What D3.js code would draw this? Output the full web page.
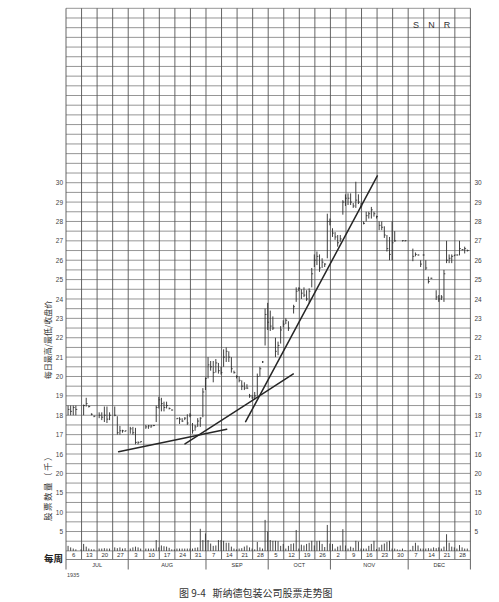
<!DOCTYPE html>
<html><head><meta charset="utf-8">
<script src="https://cdn.jsdelivr.net/npm/d3@7"></script>
<style>body{margin:0;background:#fff}svg{display:block}</style>
</head><body><svg id="c" width="499" height="602"></svg>
<script>
// ---- data ----
const weekLabels = ["6","13","20","27","3","10","17","24","31","7","14","21","28","5","12","19","26","2","9","16","23","30","7","14","21","28"];
const monthNames = ["JUL","AUG","SEP","OCT","NOV","DEC"];
const monthStartWeek = [0,4,9,13,17,22,26];
const priceTicks = [16,17,18,19,20,21,22,23,24,25,26,27,28,29,30];
const volumeTicks = [5,10,15,20];
const N = null;
// daily high / low / close (6 trading days per week)
const highs = [
 18.5,18.5,18.5,18.5,N,N,
 18.55,18.9,18.5,18.1,17.98,N,
 18.15,18.15,18.45,18.45,18.15,N,
 18.45,17.95,17.45,17.25,17.2,N,
 17.4,17.4,17.35,16.65,16.65,N,
 17.5,17.5,17.5,17.5,18.5,18.95,
 18.9,18.7,18.7,18.4,18.3,N,
 17.85,17.9,17.85,17.9,18.05,18.1,
 17.6,17.5,17.85,17.9,19.4,19.95,
 21.0,20.8,20.8,20.9,20.7,20.5,
 21.4,21.5,21.3,21.0,20.3,20.06,
 20.0,19.8,19.7,19.6,19.1,19.05,
 19.2,20.15,20.5,20.8,23.5,23.8,
 23.4,23.1,22.0,21.8,22.6,22.9,
 23.0,22.85,N,23.7,24.6,24.6,
 24.5,24.6,24.45,24.55,25.6,26.3,
 26.45,26.3,26.1,25.85,28.4,28.15,
 27.65,27.45,27.3,27.3,29.1,29.4,
 29.45,29.45,28.95,30.05,29.4,28.95,
 28.0,28.5,28.5,28.75,28.5,28.3,
 28.0,28.0,27.75,27.3,27.2,28.0,
 27.5,N,N,27.03,27.03,N,
 N,26.6,26.4,26.3,26.0,26.3,
 26.0,25.15,25.1,N,24.45,24.2,
 24.2,25.5,27.0,26.3,26.3,26.27,
 26.3,27.0,26.57,26.7,26.55,N];
const lows = [
 18.0,18.0,18.0,18.0,N,N,
 18.0,18.45,18.4,18.0,17.9,N,
 17.85,17.75,17.65,17.6,17.75,N,
 17.95,17.0,17.0,17.1,17.15,N,
 17.05,17.0,16.5,16.5,16.6,N,
 17.3,17.3,17.35,17.45,17.65,18.35,
 18.2,18.2,18.35,18.3,18.25,N,
 17.8,17.55,17.65,17.75,17.5,17.9,
 17.05,17.2,17.4,17.4,17.9,19.3,
 19.9,20.3,19.7,20.2,20.15,20.1,
 20.5,20.75,20.75,20.2,20.15,19.9,
 19.7,19.3,19.3,19.35,18.9,18.85,
 18.8,19.0,20.0,20.7,21.6,22.4,
 22.35,22.4,21.0,21.1,21.7,22.55,
 22.7,22.35,N,23.25,23.85,24.4,
 24.0,24.1,23.9,23.8,24.6,25.65,
 25.75,25.4,25.6,25.65,26.1,27.8,
 27.2,27.05,26.7,26.95,28.35,28.8,
 28.85,28.85,28.7,28.7,28.9,28.7,
 27.85,28.0,28.15,28.15,28.25,28.15,
 27.55,27.55,27.15,26.45,26.0,26.0,
 26.95,N,N,27.0,27.0,N,
 N,25.95,26.2,26.25,25.65,26.25,
 25.5,24.8,25.05,N,23.95,23.85,
 23.95,23.85,25.85,25.85,25.85,26.25,
 26.25,26.25,26.53,26.35,26.45,N];
const closes = [
 18.3,18.2,18.4,18.3,N,N,
 18.5,18.6,18.45,18.05,17.95,N,
 18.0,17.9,18.0,17.8,18.0,N,
 18.0,17.1,17.2,17.2,17.2,N,
 17.3,17.1,16.6,16.6,16.64,N,
 17.4,17.45,17.45,17.47,18.4,18.8,
 18.6,18.4,18.5,18.35,18.27,N,
 17.84,17.8,17.7,17.85,17.6,18.0,
 17.2,17.4,17.7,17.85,19.2,19.9,
 20.6,20.5,20.2,20.7,20.3,20.2,
 21.0,21.3,21.0,20.4,20.2,20.0,
 19.8,19.5,19.4,19.4,19.0,18.9,
 19.0,20.0,20.4,20.75,23.2,22.8,
 22.6,22.5,21.3,21.6,22.4,22.7,
 22.9,22.5,N,23.6,24.4,24.55,
 24.3,24.2,24.0,24.4,25.3,26.0,
 26.2,25.6,25.9,25.8,28.0,28.0,
 27.4,27.2,26.9,27.1,29.0,29.2,
 29.2,29.0,28.8,29.1,29.0,28.8,
 27.9,28.3,28.4,28.6,28.4,28.25,
 27.8,27.7,27.3,26.6,26.3,26.9,
 27.0,N,N,27.01,27.01,N,
 N,26.2,26.3,26.27,25.8,26.27,
 25.6,24.9,25.07,N,24.1,24.0,
 24.1,25.3,26.0,26.1,26.2,26.27,
 26.27,26.6,26.55,26.6,26.5,N];
// daily volume, thousands of shares
const volumes = [
 1.3,0.9,0.6,0.4,0,0.4,
 1.8,1.1,0.6,0.4,0.4,0,
 0.6,0.6,0.7,0.6,0.6,0,
 0.9,0.7,0.9,0.6,0.7,0,
 0.6,0.9,1.1,0.9,0.6,0,
 0.6,0.6,0.6,0.6,2.8,0.9,
 1.4,1.2,1.1,0.8,0.4,0.4,
 0.6,0.6,0.6,0.6,0.6,0.6,
 0.6,0.8,0.9,5.7,2.8,4.5,
 2.8,1.9,1.3,1.4,2.8,2.8,
 2.6,2.1,2.1,1.1,0.6,0.4,
 0.6,0.7,1.1,1.4,0.9,0.6,
 0.4,2.3,0.9,0.6,8.0,5.0,
 2.8,2.6,2.6,2.5,1.3,1.8,
 0.6,1.3,1.8,1.95,5.4,0.6,
 1.6,1.4,1.8,2.1,2.6,1.4,
 2.5,2.6,1.8,1.0,6.7,1.9,
 1.8,0.6,1.1,1.4,5.6,1.4,
 0.6,1.1,0.8,2.6,2.4,0.6,
 0.6,0.6,1.3,1.8,2.6,0.5,
 0.9,1.6,1.9,2.3,2.6,0.6,
 0.6,0.4,0.3,0.6,0.2,0,
 0.3,1.3,2.1,1.4,0.6,0.6,
 0.6,0.7,0.6,0.9,0.7,0.9,
 0.6,1.1,4.3,2.1,1.1,0.9,
 0.6,1.5,0.9,0.6,0.6,0];
// trend lines: [startDay, startPrice, endDay, endPrice]
const trendLines = [
 [20.3,16.12,62.0,17.28],
 [45.9,16.52,87.7,20.13],
 [69.3,17.67,120.1,30.35]];
const cornerLetters = ["S","N","R"];
const cornerWeeks = [22,23,24];

// ---- drawing ----
const svg = d3.select("#c");
const x = d3.scaleLinear().domain([0,156]).range([66,470.4]);
const xw = d3.scaleLinear().domain([0,26]).range([66,470.4]);
const yP = d3.scaleLinear().domain([11,39]).range([550.9,8.3]);
const yV = d3.scaleLinear().domain([0,20]).range([550.9,473.4]);
const gridTop = yP(39), weekRowBot = 559.5, monthRowBot = 569.5;

const g = svg.append("g");
g.selectAll("line.h").data(d3.range(11,39.001,0.5)).join("line")
  .attr("x1",xw(0)).attr("x2",xw(26))
  .attr("y1",d=>yP(d)).attr("y2",d=>yP(d))
  .attr("stroke","#8a8a8a").attr("stroke-width",0.9);
g.selectAll("line.v").data(d3.range(0,27)).join("line")
  .attr("x1",d=>xw(d)).attr("x2",d=>xw(d))
  .attr("y1",gridTop).attr("y2",d=>monthStartWeek.includes(d)?monthRowBot:weekRowBot)
  .attr("stroke","#555").attr("stroke-width",0.9);
g.append("line").attr("x1",xw(0)).attr("x2",xw(26)).attr("y1",weekRowBot).attr("y2",weekRowBot)
  .attr("stroke","#666").attr("stroke-width",0.8);

svg.append("g").selectAll("text").data(weekLabels).join("text")
  .attr("x",(d,i)=>xw(i+0.5)).attr("y",557.3)
  .attr("text-anchor","middle").attr("font-family","Liberation Sans, Arial, sans-serif")
  .attr("font-size",6).attr("fill","#333").text(d=>d);
svg.append("g").selectAll("text").data(monthNames).join("text")
  .attr("x",(d,i)=>xw((monthStartWeek[i]+monthStartWeek[i+1])/2)).attr("y",566.5)
  .attr("text-anchor","middle").attr("font-family","Liberation Sans, Arial, sans-serif")
  .attr("font-size",5.5).attr("fill","#333").text(d=>d);

function styleAxis(sel){
  sel.select(".domain").remove();
  sel.selectAll("text").attr("font-family","Liberation Sans, Arial, sans-serif").attr("font-size",6.5).attr("fill","#444");
}
svg.append("g").attr("transform",`translate(${xw(0)},0)`)
  .call(d3.axisLeft(yP).tickValues(priceTicks).tickSize(0).tickPadding(3)).call(styleAxis);
svg.append("g").attr("transform",`translate(${xw(26)},0)`)
  .call(d3.axisRight(yP).tickValues(priceTicks).tickSize(0).tickPadding(4)).call(styleAxis);
svg.append("g").attr("transform",`translate(${xw(0)},0)`)
  .call(d3.axisLeft(yV).tickValues(volumeTicks).tickSize(0).tickPadding(3)).call(styleAxis);
svg.append("g").attr("transform",`translate(${xw(26)},0)`)
  .call(d3.axisRight(yV).tickValues(volumeTicks).tickSize(0).tickPadding(4)).call(styleAxis);

const days = d3.range(highs.length).filter(i=>highs[i]!=null);
const pb = svg.append("g");
pb.selectAll("line.bar").data(days).join("line")
  .attr("x1",i=>x(i+0.8)).attr("x2",i=>x(i+0.8))
  .attr("y1",i=>yP(highs[i])).attr("y2",i=>Math.max(yP(lows[i]),yP(highs[i])+1.2))
  .attr("stroke","#2a2a2a").attr("stroke-width",0.9);
pb.selectAll("line.cl").data(days).join("line")
  .attr("x1",i=>x(i+0.8)).attr("x2",i=>x(i+0.8)+1.4)
  .attr("y1",i=>yP(closes[i])).attr("y2",i=>yP(closes[i]))
  .attr("stroke","#2a2a2a").attr("stroke-width",0.8);

svg.append("g").selectAll("line").data(d3.range(volumes.length).filter(i=>volumes[i]>0)).join("line")
  .attr("x1",i=>x(i+0.8)).attr("x2",i=>x(i+0.8))
  .attr("y1",yV(0)).attr("y2",i=>yV(volumes[i]))
  .attr("stroke","#333").attr("stroke-width",0.9);

svg.append("g").selectAll("line").data(trendLines).join("line")
  .attr("x1",d=>x(d[0])).attr("y1",d=>yP(d[1]))
  .attr("x2",d=>x(d[2])).attr("y2",d=>yP(d[3]))
  .attr("stroke","#262626").attr("stroke-width",1.5).attr("stroke-linecap","round");

svg.append("g").selectAll("text").data(cornerLetters).join("text")
  .attr("x",(d,i)=>xw(cornerWeeks[i]+0.5)).attr("y",27.5)
  .attr("text-anchor","middle").attr("font-family","Liberation Sans, Arial, sans-serif")
  .attr("font-size",9).attr("fill","#333").text(d=>d);

const cjk = "Noto Sans CJK SC, sans-serif";
svg.append("text").attr("transform","translate(51,340) rotate(-90)")
  .attr("text-anchor","middle").attr("font-family",cjk).attr("font-size",8).attr("fill","#333")
  .text("每日最高/最低/收盘价");
svg.append("text").attr("transform","translate(51,486) rotate(-90)")
  .attr("text-anchor","middle").attr("font-family",cjk).attr("font-size",8.5).attr("fill","#333")
  .attr("letter-spacing",1.5).text("股票数量（千）");
svg.append("text").attr("x",63).attr("y",561.5).attr("text-anchor","end")
  .attr("font-family",cjk).attr("font-weight","bold").attr("font-size",9.5).attr("fill","#222").text("每周");
svg.append("text").attr("x",67).attr("y",577).attr("font-family","Liberation Sans, Arial, sans-serif")
  .attr("font-size",5.5).attr("fill","#444").text("1935");
svg.append("text").attr("x",179).attr("y",597).attr("font-family",cjk).attr("font-size",10).attr("fill","#333")
  .attr("xml:space","preserve").text("图 9-4   斯纳德包装公司股票走势图");
</script></body></html>
